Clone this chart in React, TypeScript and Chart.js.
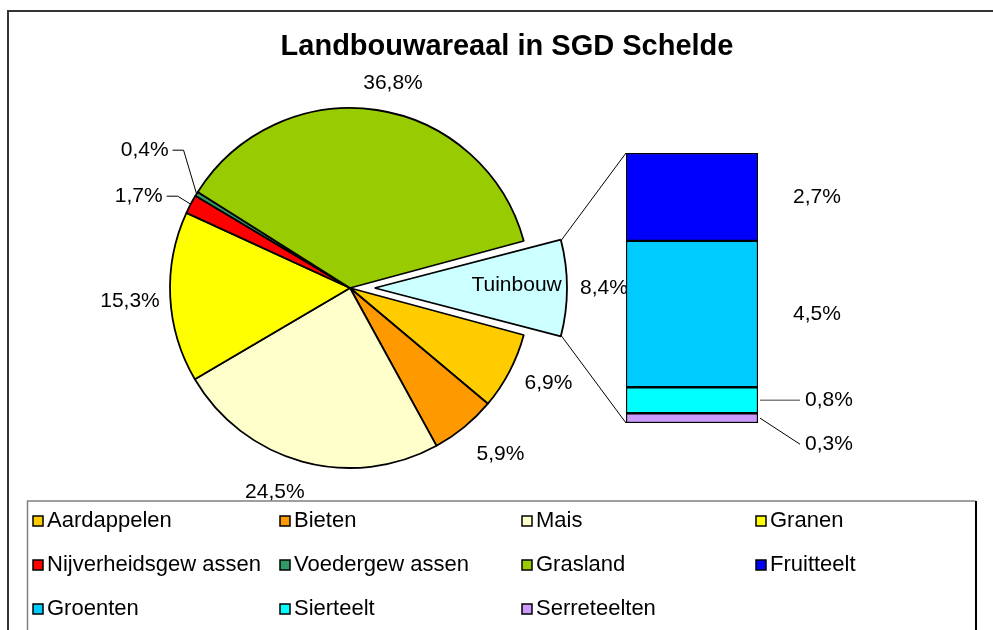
import React, { useEffect, useRef } from 'react';
import { Chart, registerables } from 'chart.js';

Chart.register(...registerables);

// ---------- data ----------
const chartTitle = 'Landbouwareaal in SGD Schelde';
const pieLabels = ['Tuinbouw', 'Aardappelen', 'Bieten', 'Mais', 'Granen', 'Nijverheidsgew assen', 'Voedergew assen', 'Grasland'];
const pieValues = [8.4, 6.9, 5.9, 24.5, 15.3, 1.7, 0.4, 36.8];
const pieColors = ['#CCFFFF', '#FFCC00', '#FF9900', '#FFFFCC', '#FFFF00', '#FF0000', '#339966', '#99CC00'];
const barLabels = ['Serreteelten', 'Sierteelt', 'Groenten', 'Fruitteelt'];
const barValues = [0.3, 0.8, 4.5, 2.7];
const barColors = ['#CC99FF', '#00FFFF', '#00CCFF', '#0000FF'];
const legendLabels = ['Aardappelen', 'Bieten', 'Mais', 'Granen', 'Nijverheidsgew assen', 'Voedergew assen', 'Grasland', 'Fruitteelt', 'Groenten', 'Sierteelt', 'Serreteelten'];

// ---------- layout ----------
const W = 993;
const H = 630;
const CX = 350;
const CY = 288;
const R = 180;
const EXPLODE = 37;
const BORDER = 1.8;
const BAR_LEFT = 626;
const BAR_RIGHT = 758;
const BAR_TOP = 153;
const BAR_BOTTOM = 423;
const GAP = 13;
const FONT = '"Liberation Sans", Arial, Helvetica, sans-serif';
const LABEL_FONT = `21px ${FONT}`;
const LEGEND_FONT = `22px ${FONT}`;
const TITLE_FONT = `bold 29px ${FONT}`;
const LEGEND_COLS = [33, 280, 522, 756];
const LEGEND_ROWS = [521, 565, 609];
// small label adjustments (px) per pie slice, to mimic the spreadsheet's best-fit placement
const LABEL_NUDGE: [number, number][] = [[0, 0], [4, -6], [13, -1], [-19, 0], [3, 2], [0, 0], [0, 0], [12, 1]];

const fmt = (v: number) => v.toFixed(1).replace('.', ',') + '%';
const colorOf = (label: string) => {
  const i = pieLabels.indexOf(label);
  if (i >= 0) return pieColors[i];
  return barColors[barLabels.indexOf(label)];
};

export default function App() {
  const pieRef = useRef<HTMLCanvasElement>(null);
  const barRef = useRef<HTMLCanvasElement>(null);

  useEffect(() => {
    const total = pieValues.reduce((a, b) => a + b, 0);
    const tuinFrac = pieValues[0] / total;
    const tuinAngle = tuinFrac * 2 * Math.PI;
    const rotation = 90 - tuinFrac * 180;
    const sinFix = 2 - Math.sin(Math.min(Math.PI, tuinAngle));
    const offsetVal = (EXPLODE * 4) / sinFix;
    const S = 2 * R + BORDER + offsetVal;

    const arcCenter = (arc: any, i: number) => {
      const mid = (arc.startAngle + arc.endAngle) / 2;
      let t = 0;
      if (i === 0) {
        const circ = arc.endAngle - arc.startAngle;
        t = (offsetVal / 4) * (2 - Math.sin(Math.min(Math.PI, circ)));
      }
      return { x: arc.x + Math.cos(mid) * t, y: arc.y + Math.sin(mid) * t, mid };
    };

    const piePlugin = {
      id: 'pieDecor',
      beforeDraw(chart: any) {
        const ctx = chart.ctx;
        ctx.save();
        ctx.fillStyle = '#fff';
        ctx.fillRect(0, 0, W, H);
        ctx.strokeStyle = '#333';
        ctx.lineWidth = 2;
        ctx.beginPath();
        ctx.moveTo(8, H + 5);
        ctx.lineTo(8, 11);
        ctx.lineTo(W + 5, 11);
        ctx.stroke();
        ctx.restore();
      },
      afterDatasetsDraw(chart: any) {
        const ctx = chart.ctx;
        const meta = chart.getDatasetMeta(0);
        ctx.save();
        ctx.font = LABEL_FONT;
        ctx.fillStyle = '#000';
        ctx.textBaseline = 'middle';
        let prevY = Infinity;
        meta.data.forEach((arc: any, i: number) => {
          const c = arcCenter(arc, i);
          const ux = Math.cos(c.mid);
          const uy = Math.sin(c.mid);
          const txt = fmt(pieValues[i]);
          if (pieValues[i] < 2) {
            const px = c.x + ux * R;
            const py = c.y + uy * R;
            const ly = Math.min(py - 8, prevY - 46);
            prevY = ly;
            const ex = px - 13;
            ctx.strokeStyle = '#000';
            ctx.lineWidth = 1;
            ctx.beginPath();
            ctx.moveTo(px, py);
            ctx.lineTo(ex, ly);
            ctx.lineTo(ex - 11, ly);
            ctx.stroke();
            ctx.textAlign = 'right';
            ctx.fillText(txt, ex - 15, ly);
            return;
          }
          const w = ctx.measureText(txt).width;
          const d = R + GAP + (w / 2) * Math.abs(ux) + 11 * Math.abs(uy);
          const [nx, ny] = LABEL_NUDGE[i];
          ctx.textAlign = 'center';
          ctx.fillText(txt, c.x + ux * d + nx, c.y + uy * d + ny);
          if (i === 0) {
            ctx.fillText(pieLabels[0], c.x + ux * R * 0.72, c.y + uy * R * 0.72 - 3);
          }
        });
        ctx.restore();
      },
      afterDraw(chart: any) {
        const ctx = chart.ctx;
        ctx.save();
        // title
        ctx.font = TITLE_FONT;
        ctx.fillStyle = '#000';
        ctx.textAlign = 'center';
        ctx.textBaseline = 'middle';
        ctx.fillText(chartTitle, 507, 47);
        // legend box
        ctx.strokeStyle = '#808080';
        ctx.lineWidth = 1.5;
        ctx.beginPath();
        ctx.moveTo(27.5, H + 5);
        ctx.lineTo(27.5, 501);
        ctx.lineTo(975.5, 501);
        ctx.stroke();
        ctx.strokeStyle = '#000';
        ctx.lineWidth = 2;
        ctx.beginPath();
        ctx.moveTo(976, 501);
        ctx.lineTo(976, H + 5);
        ctx.stroke();
        // legend items
        ctx.font = LEGEND_FONT;
        ctx.textAlign = 'left';
        legendLabels.forEach((lab, k) => {
          const x = LEGEND_COLS[k % 4];
          const y = LEGEND_ROWS[Math.floor(k / 4)];
          ctx.fillStyle = colorOf(lab);
          ctx.fillRect(x, y - 5, 10, 10);
          ctx.strokeStyle = '#000';
          ctx.lineWidth = 1.5;
          ctx.strokeRect(x, y - 5, 10, 10);
          ctx.fillStyle = '#000';
          ctx.fillText(lab, x + 14, y);
        });
        ctx.restore();
      },
    };

    const pie = new Chart(pieRef.current as HTMLCanvasElement, {
      type: 'pie',
      data: {
        labels: pieLabels,
        datasets: [
          {
            data: pieValues,
            backgroundColor: pieColors,
            borderColor: '#000',
            borderWidth: BORDER,
            hoverBorderWidth: BORDER,
            hoverOffset: 0,
            offset: pieValues.map((_, i) => (i === 0 ? offsetVal : 0)),
          } as any,
        ],
      },
      options: {
        animation: false,
        responsive: false,
        rotation,
        events: [],
        layout: {
          padding: {
            left: CX - S / 2,
            top: CY - S / 2,
            right: W - CX - S / 2,
            bottom: H - CY - S / 2,
          },
        },
        plugins: { legend: { display: false }, tooltip: { enabled: false }, title: { display: false } },
      } as any,
      plugins: [piePlugin],
    });

    const barPlugin = {
      id: 'barDecor',
      afterDraw(chart: any) {
        const ctx = chart.ctx;
        const pm = pie.getDatasetMeta(0);
        const tArc: any = pm.data[0];
        const c = arcCenter(tArc, 0);
        const metas = barValues.map((_, k) => chart.getDatasetMeta(k).data[0] as any);
        const left = metas[0].x - metas[0].width / 2;
        const right = metas[0].x + metas[0].width / 2;
        const top = metas[metas.length - 1].y;
        const bottom = metas[0].base;
        ctx.save();
        ctx.strokeStyle = '#000';
        ctx.lineWidth = 1;
        ctx.beginPath();
        ctx.moveTo(c.x + Math.cos(tArc.startAngle) * R, c.y + Math.sin(tArc.startAngle) * R);
        ctx.lineTo(left, top);
        ctx.moveTo(c.x + Math.cos(tArc.endAngle) * R, c.y + Math.sin(tArc.endAngle) * R);
        ctx.lineTo(left, bottom);
        ctx.stroke();
        ctx.font = LABEL_FONT;
        ctx.fillStyle = '#000';
        ctx.textBaseline = 'middle';
        let prevY = -Infinity;
        for (let k = metas.length - 1; k >= 0; k--) {
          const el = metas[k];
          const mid = (el.y + el.base) / 2;
          const h = Math.abs(el.base - el.y);
          const txt = fmt(barValues[k]);
          if (h > 30) {
            ctx.textAlign = 'center';
            ctx.fillText(txt, right + 59, mid);
            prevY = mid;
          } else {
            const ly = Math.max(mid, prevY + 44);
            prevY = ly;
            ctx.strokeStyle = k === 1 ? '#808080' : '#000';
            ctx.lineWidth = k === 1 ? 1.5 : 1;
            ctx.beginPath();
            ctx.moveTo(right + 2, mid);
            ctx.lineTo(right + 42, ly);
            ctx.stroke();
            ctx.textAlign = 'left';
            ctx.fillText(txt, right + 47, ly);
          }
        }
        ctx.restore();
      },
    };

    const bar = new Chart(barRef.current as HTMLCanvasElement, {
      type: 'bar',
      data: {
        labels: ['Tuinbouw'],
        datasets: barLabels.map((lab, k) => ({
          label: lab,
          data: [barValues[k]],
          backgroundColor: barColors[k],
          borderColor: '#000',
          borderWidth: 1.5,
          borderSkipped: false,
          barPercentage: 1,
          categoryPercentage: 1,
        })) as any,
      },
      options: {
        animation: false,
        responsive: false,
        events: [],
        layout: {
          padding: { left: BAR_LEFT, right: W - BAR_RIGHT, top: BAR_TOP, bottom: H - BAR_BOTTOM },
        },
        scales: {
          x: { stacked: true, display: false },
          y: { stacked: true, display: false, min: 0, max: barValues.reduce((a, b) => a + b, 0) },
        },
        plugins: { legend: { display: false }, tooltip: { enabled: false }, title: { display: false } },
      } as any,
      plugins: [barPlugin],
    });

    return () => {
      bar.destroy();
      pie.destroy();
    };
  }, []);

  return (
    <div style={{ position: 'fixed', left: 0, top: 0, width: W, height: H, background: '#fff', overflow: 'hidden' }}>
      <canvas ref={pieRef} width={W} height={H} style={{ position: 'absolute', left: 0, top: 0, width: W, height: H }} />
      <canvas ref={barRef} width={W} height={H} style={{ position: 'absolute', left: 0, top: 0, width: W, height: H }} />
    </div>
  );
}
